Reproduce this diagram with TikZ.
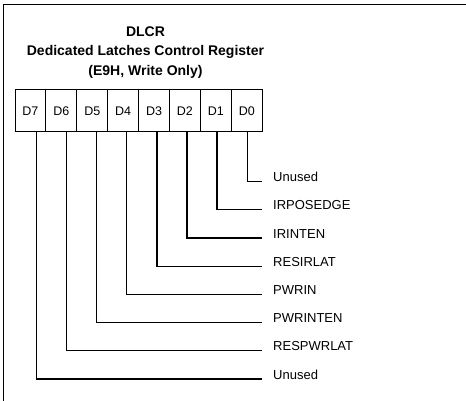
\documentclass[tikz,border=0pt]{standalone}
\usepackage{fontspec}
\setmainfont{Liberation Sans}
\usetikzlibrary{positioning}

\begin{document}
\begin{tikzpicture}[
  x=1pt,y=-1pt,
  title/.style={font=\fontsize{14}{16}\selectfont\bfseries},
  bit/.style={draw,line width=1pt,minimum width=30.9pt,minimum height=42pt,inner sep=0pt,outer sep=0pt,font=\fontsize{12.5}{14}\selectfont},
  field/.style={anchor=base west,inner sep=0pt,font=\fontsize{13}{15}\selectfont},
  wire/.style={line width=1.3pt}
]
\useasboundingbox (0,0) rectangle (466,401);
\draw[line width=1pt] (3,401) -- (3,5) -- (466,5);
\node[title] (name) at (145.5,32) {DLCR};
\node[title] (full) at (145.5,52) {Dedicated Latches Control Register};
\node[title] (addr) at (145.5,72) {(E9H, Write Only)};
\node[bit,anchor=north west] (d7) at (15,90) {D7};
\node[bit,right=0pt of d7] (d6) {D6};
\node[bit,right=0pt of d6] (d5) {D5};
\node[bit,right=0pt of d5] (d4) {D4};
\node[bit,right=0pt of d4] (d3) {D3};
\node[bit,right=0pt of d3] (d2) {D2};
\node[bit,right=0pt of d2] (d1) {D1};
\node[bit,right=0pt of d1] (d0) {D0};
\node[field] (f0) at (273,181.6) {Unused};
\node[field] (f1) at (273,209.8) {IRPOSEDGE};
\node[field] (f2) at (273,238) {IRINTEN};
\node[field] (f3) at (273,266.2) {RESIRLAT};
\node[field] (f4) at (273,294.4) {PWRIN};
\node[field] (f5) at (273,322.6) {PWRINTEN};
\node[field] (f6) at (273,350.8) {RESPWRLAT};
\node[field] (f7) at (273,379) {Unused};
\draw[wire] ([xshift=1pt]d0.south) |- ([xshift=-11pt]f0.base west);
\draw[wire] ([xshift=1pt]d1.south) |- ([xshift=-11pt]f1.base west);
\draw[wire] ([xshift=2pt]d2.south) |- ([xshift=-11pt]f2.base west);
\draw[wire] ([xshift=3pt]d3.south) |- ([xshift=-11pt]f3.base west);
\draw[wire] ([xshift=3pt]d4.south) |- ([xshift=-11pt]f4.base west);
\draw[wire] ([xshift=4pt]d5.south) |- ([xshift=-11pt]f5.base west);
\draw[wire] ([xshift=5pt]d6.south) |- ([xshift=-11pt]f6.base west);
\draw[wire] ([xshift=6pt]d7.south) |- ([xshift=-11pt]f7.base west);
\end{tikzpicture}
\end{document}
